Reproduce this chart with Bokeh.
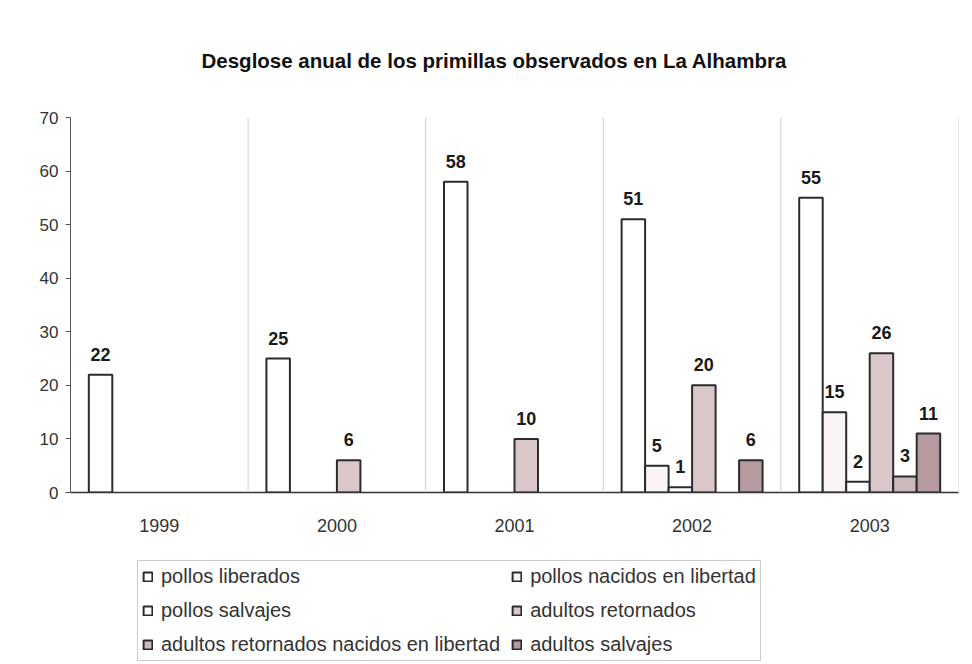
from bokeh.plotting import figure
from bokeh.layouts import column
from bokeh.models import (ColumnDataSource, FactorRange, Legend, LegendItem, Span,
                          FixedTicker)
from bokeh.transform import dodge
from bokeh.core.properties import value
from bokeh.embed import file_html
from bokeh.resources import INLINE

# ---- data ----
years = ["1999", "2000", "2001", "2002", "2003"]
series_names = ["pollos liberados", "pollos nacidos en libertad", "pollos salvajes",
                "adultos retornados", "adultos retornados nacidos en libertad",
                "adultos salvajes"]
pollos_liberados = [22, 25, 58, 51, 55]
pollos_nacidos = [None, None, None, 5, 15]
pollos_salvajes = [None, None, None, 1, 2]
adultos_retornados = [None, 6, 10, 20, 26]
adultos_ret_nacidos = [None, None, None, None, 3]
adultos_salvajes = [None, None, None, 6, 11]
y_ticks = [0, 10, 20, 30, 40, 50, 60, 70]
title_text = "Desglose anual de los primillas observados en La Alhambra"

all_series = [pollos_liberados, pollos_nacidos, pollos_salvajes,
              adultos_retornados, adultos_ret_nacidos, adultos_salvajes]
colors = ["#ffffff", "#fbf4f4", "#ffffff", "#d9c7c9", "#cbbabc", "#b59ba0"]

FONT = "Liberation Sans"
bar_w = 0.1323

p = figure(width=972, height=536, x_range=FactorRange(*years, range_padding=0),
           y_range=(0, 70), output_backend="svg", toolbar_location=None,
           min_border_left=70, min_border_right=14, min_border_top=117,
           min_border_bottom=44, background_fill_color="white",
           border_fill_color="white", outline_line_color=None)

p.title.text = title_text
p.title.text_font = FONT
p.title.text_font_size = "20.5px"
p.title.text_font_style = "bold"
p.title.text_color = "#111111"
p.title.align = "left"
p.title.offset = 131
p.title.standoff = 92

for k, (name, vals, col) in enumerate(zip(series_names, all_series, colors)):
    xs = [y for y, v in zip(years, vals) if v is not None]
    vs = [v for v in vals if v is not None]
    src = ColumnDataSource(dict(year=xs, val=vs, lab=[str(v) for v in vs]))
    off = (k - 2.5) * bar_w
    p.vbar(x=dodge("year", off, range=p.x_range), top="val", width=bar_w,
           source=src, fill_color=col, line_color="#2b2b2b", line_width=2)
    p.text(x=dodge("year", off, range=p.x_range), y="val", text="lab", source=src,
           text_align="center", text_baseline="bottom", y_offset=-14,
           text_font=value(FONT), text_font_size="18px", text_font_style="bold",
           text_color="#1a1a1a")

# category separators
for i in range(1, len(years) + 1):
    p.add_layout(Span(location=i, dimension="height", line_color="#cfcfcf",
                      line_width=1))

p.xgrid.grid_line_color = None
p.ygrid.grid_line_color = None

p.yaxis.ticker = FixedTicker(ticks=y_ticks)
p.yaxis.minor_tick_line_color = None
p.yaxis.major_tick_out = 5
p.yaxis.major_tick_in = 0
p.yaxis.major_label_standoff = 7
p.yaxis.axis_line_color = "#555555"
p.yaxis.major_tick_line_color = "#555555"
p.yaxis.major_label_text_font = FONT
p.yaxis.major_label_text_font_size = "17px"
p.yaxis.major_label_text_color = "#333333"

p.xaxis.major_tick_line_color = None
p.xaxis.axis_line_color = "#333333"
p.xaxis.axis_line_width = 1.5
p.xaxis.major_label_standoff = 20
p.xaxis.major_label_text_font = FONT
p.xaxis.major_label_text_font_size = "18px"
p.xaxis.major_label_text_color = "#333333"

# ---- legend panel (separate figure below the chart, frames aligned) ----
pl = figure(width=972, height=128, x_range=(0, 1), y_range=(0, 1),
            x_axis_location=None, y_axis_location=None,
            output_backend="svg", toolbar_location=None,
            min_border_left=0, min_border_right=0, min_border_top=0,
            min_border_bottom=0, background_fill_color="white",
            border_fill_color="white", outline_line_color=None)
pl.grid.visible = False
legend_renderers = {}
for name, col in zip(series_names, colors):
    # zero-size proxy glyphs hidden under the legend box, used for the swatches
    legend_renderers[name] = pl.vbar(x=[0.5], top=[0.5], bottom=[0.5], width=0.01,
                                     fill_color=col, line_color="#2b2b2b",
                                     line_width=2)

# the legend fills column by column; order so that rows read left to right
n_rows = 3
order = [series_names[r * 2 + c] for c in range(2) for r in range(n_rows)]
items = [LegendItem(label=nm, renderers=[legend_renderers[nm]]) for nm in order]

legend = Legend(items=items, ncols=2, location=(67, 3),
                label_text_font=FONT, label_text_font_size="20px",
                label_text_color="#333333", glyph_width=11, glyph_height=11,
                label_standoff=8, spacing=11, padding=4, margin=0,
                border_line_color="#9a9a9a", border_line_width=1,
                background_fill_color="white", background_fill_alpha=1)
pl.add_layout(legend)

layout = column(p, pl, spacing=0)
open("out.html", "w").write(file_html(layout, INLINE))
